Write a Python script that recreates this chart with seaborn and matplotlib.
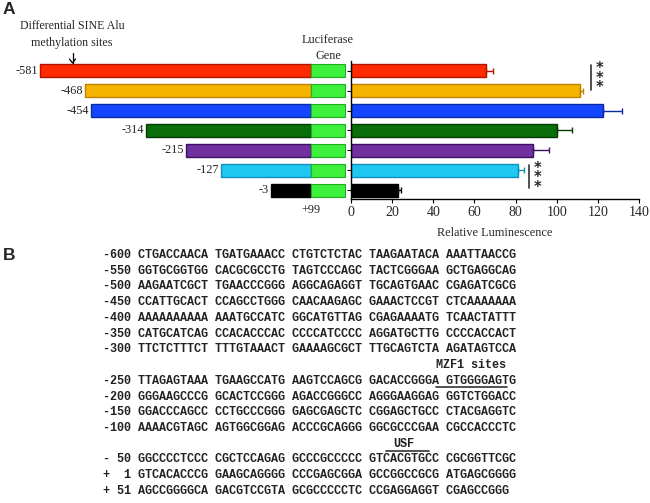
import numpy as np
import matplotlib
matplotlib.use('Agg')
import matplotlib.pyplot as plt
import seaborn as sns

sns.set_theme(style='ticks')
plt.rcParams['font.family'] = ['Liberation Serif', 'DejaVu Serif']

# =========================
#  DATA
# =========================

construct_starts = [-581, -468, -454, -314, -215, -127, -3]
construct_labels = ['-581', '-468', '-454', '-314', '-215', '-127', '-3']
construct_end = 99
gene_end = 183

luminescence = [65.5, 111.3, 122.6, 100.0, 88.5, 81.3, 22.7]
lum_err = [3.5, 1.7, 9.0, 7.5, 7.8, 2.9, 1.5]

bar_colors = ['#ff2a00', '#f5b400', '#1446ff', '#0a6e0a', '#7030a0', '#1ec8f0', '#000000']
edge_colors = ['#b01400', '#c08000', '#0a2aa0', '#053a05', '#3e1060', '#1090c0', '#000000']
gene_color = '#3cf03c'

lum_ticks = [0, 20, 40, 60, 80, 100, 120, 140]

# significance brackets: (x, first row, last row)
sig_marks = [(116.7, -0.3, 0.95), (86.4, 4.75, 5.9)]

seq_block1 = [
    ('-600', 'CTGACCAACA TGATGAAACC CTGTCTCTAC TAAGAATACA AAATTAACCG'),
    ('-550', 'GGTGCGGTGG CACGCGCCTG TAGTCCCAGC TACTCGGGAA GCTGAGGCAG'),
    ('-500', 'AAGAATCGCT TGAACCCGGG AGGCAGAGGT TGCAGTGAAC CGAGATCGCG'),
    ('-450', 'CCATTGCACT CCAGCCTGGG CAACAAGAGC GAAACTCCGT CTCAAAAAAA'),
    ('-400', 'AAAAAAAAAA AAATGCCATC GGCATGTTAG CGAGAAAATG TCAACTATTT'),
    ('-350', 'CATGCATCAG CCACACCCAC CCCCATCCCC AGGATGCTTG CCCCACCACT'),
    ('-300', 'TTCTCTTTCT TTTGTAAACT GAAAAGCGCT TTGCAGTCTA AGATAGTCCA'),
]
seq_block2 = [
    ('-250', 'TTAGAGTAAA TGAAGCCATG AAGTCCAGCG GACACCGGGA GTGGGGAGTG'),
    ('-200', 'GGGAAGCCCG GCACTCCGGG AGACCGGGCC AGGGAAGGAG GGTCTGGACC'),
    ('-150', 'GGACCCAGCC CCTGCCCGGG GAGCGAGCTC CGGAGCTGCC CTACGAGGTC'),
    ('-100', 'AAAACGTAGC AGTGGCGGAG ACCCGCAGGG GGCGCCCGAA CGCCACCCTC'),
]
seq_block3 = [
    ('- 50', 'GGCCCCTCCC CGCTCCAGAG GCCCGCCCCC GTCACGTGCC CGCGGTTCGC'),
    ('+  1', 'GTCACACCCG GAAGCAGGGG CCCGAGCGGA GCCGGCCGCG ATGAGCGGGG'),
    ('+ 51', 'AGCCGGGGCA GACGTCCGTA GCGCCCCCTC CCGAGGAGGT CGAGCCGGG'),
]
# label, label column, marked from column, to column
mzf1_site = ('MZF1 sites', 47, 47, 57)
usf_site = ('USF', 41, 40, 46)

W, H = 650, 503


def fx(x):
    return x / W


def fy(y):
    return 1 - y / H


# =========================
#  PANEL A
# =========================

def draw_panel_a(fig):
    rows = np.arange(len(construct_starts))
    ylim = (6.45, -0.5)

    # construct diagram
    ax_l = fig.add_axes([0, fy(199), fx(346), fy(61) - fy(199)])
    ax_l.set_xlim(-681, 186)
    ax_l.set_ylim(*ylim)
    ax_l.set_axis_off()
    widths = [construct_end - s for s in construct_starts]
    ax_l.barh(rows, widths, left=construct_starts, height=0.66,
              color=bar_colors, edgecolor=edge_colors, linewidth=1)
    ax_l.barh(rows, gene_end - construct_end, left=construct_end, height=0.66,
              color=gene_color, edgecolor='#22b022', linewidth=0.8)
    for r, s, lab in zip(rows, construct_starts, construct_labels):
        ax_l.text(s - 5, r, lab, ha='right', va='center', fontsize=8.8)
    ax_l.text(construct_end, 6.98, '+99', ha='center', va='center',
              fontsize=8.8, clip_on=False)

    # luminescence bars
    ax_r = fig.add_axes([fx(351), fy(199), fx(639) - fx(351), fy(61) - fy(199)])
    sns.barplot(x=luminescence, y=construct_labels, hue=construct_labels,
                palette=bar_colors, orient='h', width=0.66, legend=False,
                errorbar=None, saturation=1, ax=ax_r)
    for patch, ec in zip(ax_r.patches, edge_colors):
        patch.set_edgecolor(ec)
        patch.set_linewidth(1)
    for r, v, e, ec in zip(rows, luminescence, lum_err, edge_colors):
        ax_r.errorbar(v, r, xerr=[[0], [e]], fmt='none', ecolor=ec,
                      elinewidth=1, capsize=2.5, capthick=1)
    ax_r.set_xlim(0, 140)
    ax_r.set_ylim(*ylim)
    ax_r.set_xticks(lum_ticks)
    ax_r.set_xticklabels([str(t) for t in lum_ticks], fontsize=10)
    ax_r.set_yticks(rows)
    ax_r.set_yticklabels([])
    ax_r.set_ylabel('')
    ax_r.tick_params(axis='both', length=3, width=0.8, pad=2, color='black')
    ax_r.set_xlabel('Relative Luminescence', fontsize=8.8, labelpad=6)
    sns.despine(ax=ax_r)
    for sp in ['left', 'bottom']:
        ax_r.spines[sp].set_color('black')
        ax_r.spines[sp].set_linewidth(1)

    for x, r0, r1 in sig_marks:
        ax_r.plot([x, x], [r0, r1], color='#333333', lw=1.2, clip_on=False)
        ax_r.text(x + 2.2, (r0 + r1) / 2 + 0.05, '*\n*\n*', ha='left', va='center',
                  fontsize=10.5, fontweight='bold', linespacing=0.55,
                  family=['DejaVu Sans'], clip_on=False)

    # annotations
    fig.text(fx(9), fy(10), 'A', fontsize=12.5, fontweight='bold',
             family=['Liberation Sans', 'DejaVu Sans'], ha='center', va='center')
    fig.text(fx(72), fy(26), 'Differential SINE Alu', fontsize=8.6,
             ha='center', va='center')
    fig.text(fx(72), fy(43), 'methylation sites', fontsize=8.6,
             ha='center', va='center')
    fig.add_artist(plt.Line2D([fx(72.5), fx(72.5)], [fy(53), fy(63)],
                              color='black', lw=0.9))
    fig.add_artist(plt.Line2D([fx(69.5), fx(72.5), fx(75.5)],
                              [fy(59), fy(63), fy(59)], color='black', lw=0.9))
    fig.text(fx(328), fy(40), 'Luciferase', fontsize=8.8, ha='center', va='center')
    fig.text(fx(328), fy(56), 'Gene', fontsize=8.8, ha='center', va='center')


# =========================
#  PANEL B
# =========================

def draw_panel_b(fig):
    fig.text(fx(9), fy(256), 'B', fontsize=12.5, fontweight='bold',
             family=['Liberation Sans', 'DejaVu Sans'], ha='center', va='center')
    x0 = 103
    cw = 7.08
    y0 = 255
    dy = 15.73
    mono = dict(family=['Liberation Mono', 'DejaVu Sans Mono'], fontsize=8.5,
                fontweight='bold', ha='left', va='center', color='#222222')

    slot = 0
    slots = {}
    for block, site in [(seq_block1, mzf1_site), (seq_block2, usf_site), (seq_block3, None)]:
        for pos, seq in block:
            fig.text(fx(x0), fy(y0 + slot * dy), pos + ' ' + seq, **mono)
            slots[pos] = slot
            slot += 1
        if site is not None:
            fig.text(fx(x0 + site[1] * cw), fy(y0 + slot * dy), site[0], **mono)
            slot += 1

    # MZF1 underline (below -250 row), USF line (above -50 row)
    y_m = y0 + slots['-250'] * dy + 6
    fig.add_artist(plt.Line2D([fx(x0 + mzf1_site[2] * cw), fx(x0 + mzf1_site[3] * cw)],
                              [fy(y_m), fy(y_m)], color='#333333', lw=1.2))
    y_u = y0 + slots['- 50'] * dy - 8
    fig.add_artist(plt.Line2D([fx(x0 + usf_site[2] * cw), fx(x0 + usf_site[3] * cw)],
                              [fy(y_u), fy(y_u)], color='#333333', lw=1.2))


def main():
    fig = plt.figure(figsize=(6.5, 5.03), dpi=100)
    fig.patch.set_facecolor('white')
    draw_panel_a(fig)
    draw_panel_b(fig)
    fig.savefig('out.png', dpi=100, facecolor='white')
    plt.close(fig)


if __name__ == '__main__':
    main()
